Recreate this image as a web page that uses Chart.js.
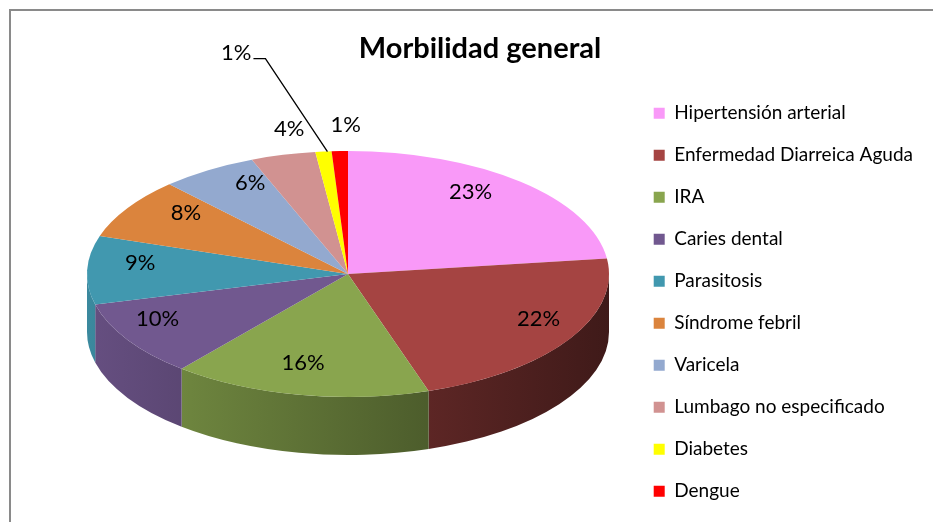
<!DOCTYPE html>
<html lang="es">
<head>
  <meta charset="UTF-8">
  <title>Morbilidad general</title>
  <script src="https://cdn.jsdelivr.net/npm/chart.js@4.4.3/dist/chart.umd.min.js"></script>
  <style>
    html, body { margin: 0; padding: 0; background: #fff; overflow: hidden; }
    #wrap { position: relative; width: 933px; height: 522px; overflow: hidden; }
    #frame { position: absolute; left: 9px; top: 9px; width: 960px; height: 560px; border: 2px solid #8a8a8a; }
    canvas { position: absolute; left: 0; top: 0; }
  </style>
</head>
<body>
  <div id="wrap">
    <div id="frame"></div>
    <canvas id="chart" width="933" height="560"></canvas>
  </div>

  <script>
    const categories = [
      'Hipertensión arterial',
      'Enfermedad Diarreica Aguda',
      'IRA',
      'Caries dental',
      'Parasitosis',
      'Síndrome febril',
      'Varicela',
      'Lumbago no especificado',
      'Diabetes',
      'Dengue'
    ];
    const percentages = [23, 22, 16, 10, 9, 8, 6, 4, 1, 1];
    const sliceColors = ['#F999F8', '#A54442', '#89A54E', '#71588F', '#4198AF', '#DB843D', '#93A9CF', '#D19291', '#FFFF00', '#FF0000'];

    function shade(hex, f) {
      const n = parseInt(hex.slice(1), 16);
      const r = Math.round(((n >> 16) & 255) * f);
      const g = Math.round(((n >> 8) & 255) * f);
      const b = Math.round((n & 255) * f);
      return `rgb(${r},${g},${b})`;
    }

    // squashes the library's pie into a tilted disc and adds the front wall
    const pie3d = {
      id: 'pie3d',
      beforeDatasetsDraw(chart, args, opts) {
        const ctx = chart.ctx;
        const meta = chart.getDatasetMeta(0);
        const first = meta.data[0];
        const { cx, cy, rx, ry, depth } = opts;
        const colors = chart.data.datasets[0].backgroundColor;

        meta.data.forEach((arc, i) => {
          const a = Math.max(arc.startAngle, 0);
          const b = Math.min(arc.endAngle, Math.PI);
          if (b <= a) return;
          const grad = ctx.createLinearGradient(cx - rx, 0, cx + rx, 0);
          grad.addColorStop(0, shade(colors[i], 0.9));
          grad.addColorStop(1, shade(colors[i], 0.38));
          ctx.beginPath();
          ctx.ellipse(cx, cy, rx, ry, 0, a, b);
          ctx.ellipse(cx, cy + depth, rx, ry, 0, b, a, true);
          ctx.closePath();
          ctx.fillStyle = grad;
          ctx.fill();
        });

        ctx.save();
        ctx.translate(cx, cy);
        ctx.scale(rx / first.outerRadius, ry / first.outerRadius);
        ctx.translate(-first.x, -first.y);
      },
      afterDatasetsDraw(chart, args, opts) {
        const ctx = chart.ctx;
        ctx.restore();
        const meta = chart.getDatasetMeta(0);
        const values = chart.data.datasets[0].data;
        const { cx, cy, rx, ry } = opts;

        ctx.save();
        ctx.font = opts.labelSize + 'px Lato';
        ctx.fillStyle = '#000';
        ctx.textAlign = 'center';
        ctx.textBaseline = 'middle';
        meta.data.forEach((arc, i) => {
          const mid = (arc.startAngle + arc.endAngle) / 2;
          const ux = Math.cos(mid), uy = Math.sin(mid);
          const text = values[i] + '%';
          const ex = cx + rx * ux, ey = cy + ry * uy;
          if (i === opts.leaderIndex) {
            const kx = ex - 58, ky = ey - 93;
            ctx.beginPath();
            ctx.moveTo(ex + 4, ey);
            ctx.lineTo(kx, ky);
            ctx.lineTo(kx - 12, ky);
            ctx.strokeStyle = '#000';
            ctx.lineWidth = 1.3;
            ctx.stroke();
            ctx.textAlign = 'right';
            ctx.fillText(text, kx - 14, ky - 6);
            ctx.textAlign = 'center';
          } else if (values[i] < 5) {
            ctx.fillText(text, ex + 6, ey - 26);
          } else {
            // far side looks narrower, like the perspective of the original
            const fx = 0.8 * (1 + 0.15 * uy);
            ctx.fillText(text, cx + fx * rx * ux, cy - 8 + 0.8 * ry * uy);
          }
        });
        ctx.restore();
      }
    };

    Chart.defaults.font.family = 'Lato';
    Chart.defaults.color = '#000';

    new Chart(document.getElementById('chart'), {
      type: 'pie',
      data: {
        labels: categories,
        datasets: [{
          data: percentages,
          backgroundColor: sliceColors,
          borderWidth: 0
        }]
      },
      plugins: [pie3d],
      options: {
        responsive: false,
        animation: false,
        layout: { padding: { left: 37, right: 10 } },
        plugins: {
          title: {
            display: true,
            text: 'Morbilidad general',
            font: { size: 29, weight: 'bold' },
            color: '#000',
            padding: { top: 31, bottom: 15 }
          },
          legend: {
            position: 'right',
            align: 'start',
            fullSize: false,
            labels: { boxWidth: 11, boxHeight: 11, padding: 23, font: { size: 19 }, color: '#000' }
          },
          tooltip: { enabled: false },
          pie3d: { cx: 348, cy: 274, rx: 261, ry: 123, depth: 58, labelSize: 22, leaderIndex: 8 }
        }
      }
    });
  </script>
</body>
</html>
